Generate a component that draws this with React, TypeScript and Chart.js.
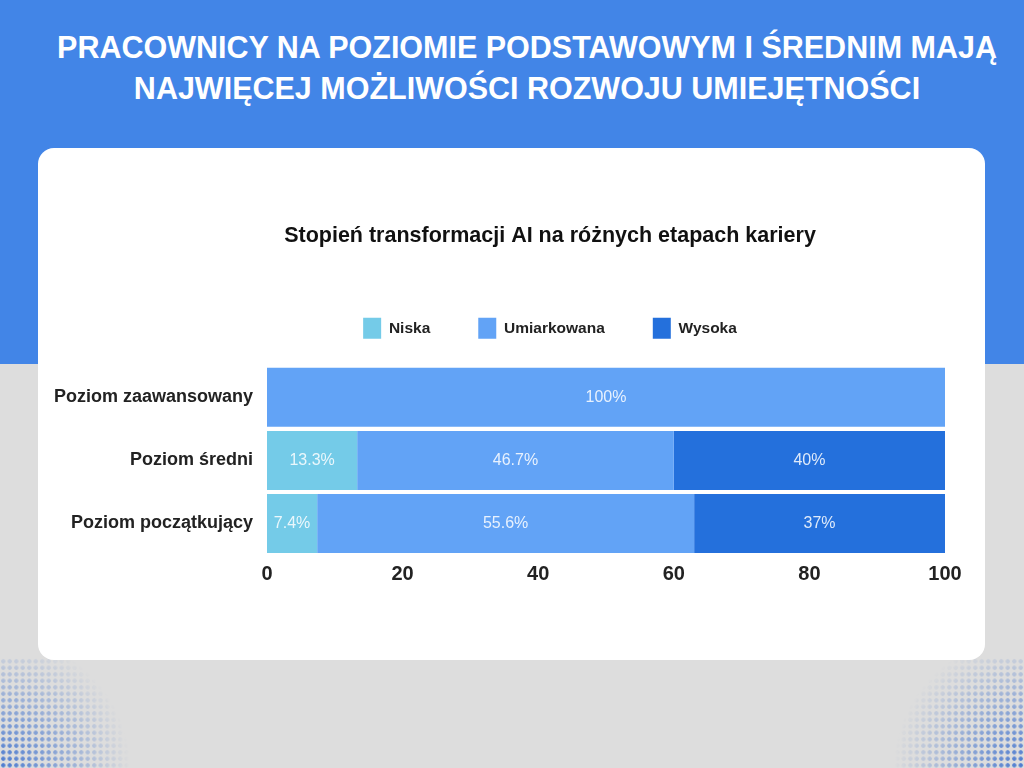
import React, { useEffect, useRef } from "react";
import { Chart, registerables } from "chart.js";

Chart.register(...registerables);

const categories = ["Poziom zaawansowany", "Poziom średni", "Poziom początkujący"];
const seriesNames = ["Niska", "Umiarkowana", "Wysoka"];
const niska = [0, 13.3, 7.4];
const umiarkowana = [100, 46.7, 55.6];
const wysoka = [0, 40, 37];
const xTicks = [0, 20, 40, 60, 80, 100];
const chartTitle = "Stopień transformacji AI na różnych etapach kariery";
const headerLines = [
  "PRACOWNICY NA POZIOMIE PODSTAWOWYM I ŚREDNIM MAJĄ",
  "NAJWIĘCEJ MOŻLIWOŚCI ROZWOJU UMIEJĘTNOŚCI",
];

const colors = ["#74cbe8", "#62a3f6", "#2470dc"];
const SANS = "'Liberation Sans', Arial, sans-serif";

const labelPlugin = {
  id: "barLabels",
  afterInit(chart: any) {
    const lg = chart.legend;
    if (lg && !lg.__patched) {
      const orig = lg.fit;
      lg.fit = function () {
        orig.call(this);
        this.height += 17;
      };
      lg.__patched = true;
    }
  },
  afterUpdate(chart: any) {
    const ys = chart.scales.y;
    if (ys) ys._computeLabelArea = () => undefined;
  },
  afterDatasetsDraw(chart: any) {
    const ctx = chart.ctx;
    ctx.save();
    ctx.font = `400 16px ${SANS}`;
    ctx.fillStyle = "rgba(255,255,255,0.85)";
    ctx.textAlign = "center";
    ctx.textBaseline = "middle";
    chart.data.datasets.forEach((ds: any, di: number) => {
      const meta = chart.getDatasetMeta(di);
      meta.data.forEach((el: any, i: number) => {
        const v = ds.data[i];
        if (!v) return;
        const p = el.getProps(["x", "y", "base"], true);
        ctx.fillText(`${v}%`, (p.x + p.base) / 2, p.y);
      });
    });
    ctx.restore();
  },
};

function BarChart() {
  const ref = useRef<HTMLCanvasElement>(null);
  useEffect(() => {
    if (!ref.current) return;
    const chart = new Chart(ref.current, {
      type: "bar",
      data: {
        labels: categories,
        datasets: [niska, umiarkowana, wysoka].map((d, i) => ({
          label: seriesNames[i],
          data: d,
          backgroundColor: colors[i],
          borderWidth: 0,
          barPercentage: 0.935,
          categoryPercentage: 1,
        })),
      },
      options: {
        indexAxis: "y",
        animation: false,
        responsive: false,
        maintainAspectRatio: false,
        layout: { padding: { left: 115, right: 115, top: 0, bottom: 0 } },
        plugins: {
          title: {
            display: true,
            text: chartTitle,
            color: "#111",
            font: { family: SANS, size: 21.5, weight: "bold" },
            padding: { top: 23, bottom: 21 },
          },
          legend: {
            display: true,
            labels: {
              boxWidth: 18,
              boxHeight: 21,
              padding: 48,
              color: "#222",
              font: { family: SANS, size: 15.5, weight: "bold" },
            },
          },
          tooltip: { enabled: false },
        },
        scales: {
          x: {
            stacked: true,
            min: 0,
            max: 100,
            afterBuildTicks: (s: any) => {
              s.ticks = xTicks.map((v) => ({ value: v }));
            },
            grid: { display: false, drawTicks: false },
            border: { display: false },
            ticks: {
              padding: 7,
              color: "#222",
              font: { family: SANS, size: 20, weight: "bold" },
            },
          },
          y: {
            stacked: true,
            afterFit: (s: any) => {
              s.width = 112;
            },
            grid: { display: false, drawTicks: false },
            border: { display: false },
            ticks: {
              padding: 14,
              color: "#222",
              font: { family: SANS, size: 18, weight: "bold" },
            },
          },
        },
      },
      plugins: [labelPlugin],
    });
    return () => chart.destroy();
  }, []);
  return <canvas ref={ref} width={1020} height={393} style={{ position: "absolute", left: 40, top: 200, width: 1020, height: 393 }} />;
}

const dots = (pos: string) => ({
  position: "absolute" as const,
  width: 130,
  height: 110,
  backgroundImage: "radial-gradient(circle, rgba(50,105,205,0.85) 1.8px, transparent 2.4px)",
  backgroundSize: "6.5px 6.5px",
  WebkitMaskImage: `radial-gradient(circle farthest-side at ${pos}, black 0%, rgba(0,0,0,0.45) 55%, transparent 100%)`,
  maskImage: `radial-gradient(circle farthest-side at ${pos}, black 0%, rgba(0,0,0,0.45) 55%, transparent 100%)`,
});

export default function App() {
  return (
    <div style={{ position: "fixed", left: 0, top: 0, width: 1024, height: 768, overflow: "hidden", background: "#dddddd" }}>
      <div style={{ position: "absolute", left: 0, top: 0, width: 1024, height: 364, background: "#4285e7" }} />
      <div style={{ ...dots("bottom left"), left: 0, bottom: 0 }} />
      <div style={{ ...dots("bottom right"), right: 0, bottom: 0 }} />
      <div
        style={{
          position: "absolute",
          left: 0,
          top: 27,
          width: 1054,
          textAlign: "center",
          color: "#fff",
          fontFamily: SANS,
          fontWeight: 700,
          fontSize: 30.5,
          lineHeight: "41px",
          whiteSpace: "nowrap",
        }}
      >
        {headerLines.map((l) => (
          <div key={l}>{l}</div>
        ))}
      </div>
      <div style={{ position: "absolute", left: 38, top: 148, width: 947, height: 512, background: "#fff", borderRadius: 16 }} />
      <BarChart />
    </div>
  );
}
